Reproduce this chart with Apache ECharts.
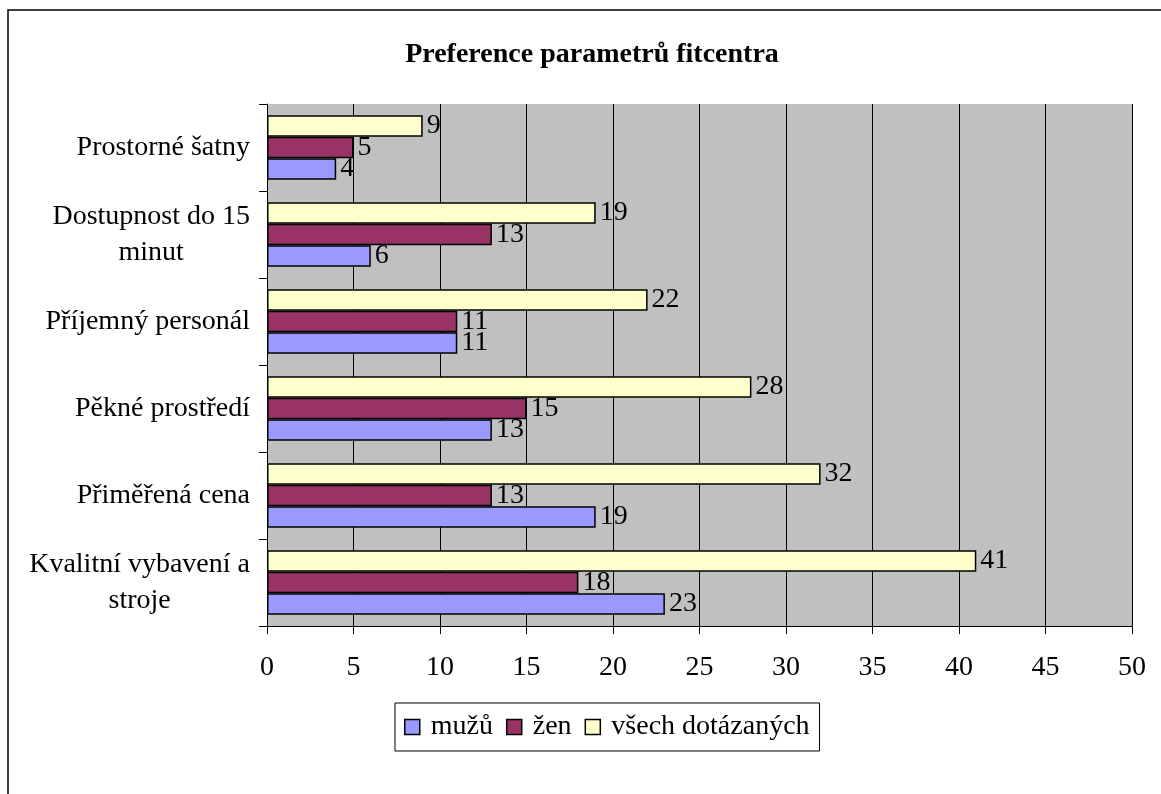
<!DOCTYPE html>
<html><head><meta charset="utf-8">
<script src="https://cdn.jsdelivr.net/npm/echarts@6/dist/echarts.min.js"></script>
<style>html,body{margin:0;padding:0;background:#fff}#c{width:1161px;height:794px}</style>
</head><body><div id="c"></div>
<script>
const categories = ['Kvalitní vybavení a\nstroje', 'Přiměřená cena', 'Pěkné prostředí', 'Příjemný personál', 'Dostupnost do 15\nminut', 'Prostorné šatny'];
const muzu = [23, 19, 13, 11, 6, 4];
const zen = [18, 13, 15, 11, 13, 5];
const vsech = [41, 32, 28, 22, 19, 9];
const seriesNames = ['mužů', 'žen', 'všech dotázaných'];
const xTicks = {min: 0, max: 50, interval: 5};

const FONT = 'Liberation Serif';
const FS = 28;
const chart = echarts.init(document.getElementById('c'));
function mk(name, data, color) {
  return {
    name, type: 'bar', data,
    barGap: '0%', barCategoryGap: '26%',
    itemStyle: {color, borderColor: '#000', borderWidth: 1.5},
    label: {show: true, position: 'right', distance: 4, color: '#000', fontFamily: FONT, fontSize: FS},
    emphasis: {disabled: true}, animation: false
  };
}
chart.setOption({
  animation: false,
  title: {text: 'Preference parametrů fitcentra', left: 587, textAlign: 'center', top: 36,
    textStyle: {fontFamily: FONT, fontSize: FS, fontWeight: 'bold', color: '#000'}},
  graphic: [{type: 'rect', shape: {x: 8, y: 10, width: 1300, height: 1000},
    style: {fill: 'none', stroke: '#000', lineWidth: 1.5}, silent: true, z: -1}],
  grid: {left: 267, right: 29, top: 104, bottom: 168, backgroundColor: '#C0C0C0', show: true, borderWidth: 0},
  legend: {left: 395, top: 703, orient: 'horizontal', icon: 'rect', itemWidth: 15, itemHeight: 15, itemGap: 13,
    padding: [10, 10, 10, 9], borderColor: '#000', borderWidth: 1,
    textStyle: {fontFamily: FONT, fontSize: FS, color: '#000', padding: [0, 0, 0, 6]},
    itemStyle: {borderColor: '#000', borderWidth: 1.5}, data: seriesNames},
  xAxis: {type: 'value', min: xTicks.min, max: xTicks.max, interval: xTicks.interval,
    axisLine: {show: true, lineStyle: {color: '#000', width: 1}},
    axisTick: {show: true, length: 8, lineStyle: {color: '#000'}},
    splitLine: {show: true, lineStyle: {color: '#000', width: 1}},
    axisLabel: {fontFamily: FONT, fontSize: FS, color: '#000', margin: 28}},
  yAxis: {type: 'category', data: categories,
    axisLine: {show: true, lineStyle: {color: '#000', width: 1}},
    axisTick: {show: true, length: 8, lineStyle: {color: '#000'}},
    axisLabel: {fontFamily: FONT, fontSize: FS, color: '#000', margin: 17, lineHeight: 36,
      formatter: v => '{a|' + v.split('\n').join('}\n{a|') + '}',
      rich: {a: {fontFamily: FONT, fontSize: FS, color: '#000', align: 'center', lineHeight: 36}}}},
  series: [mk(seriesNames[2], vsech, '#FFFFCC'), mk(seriesNames[1], zen, '#993366'), mk(seriesNames[0], muzu, '#9999FF')]
});
</script></body></html>
